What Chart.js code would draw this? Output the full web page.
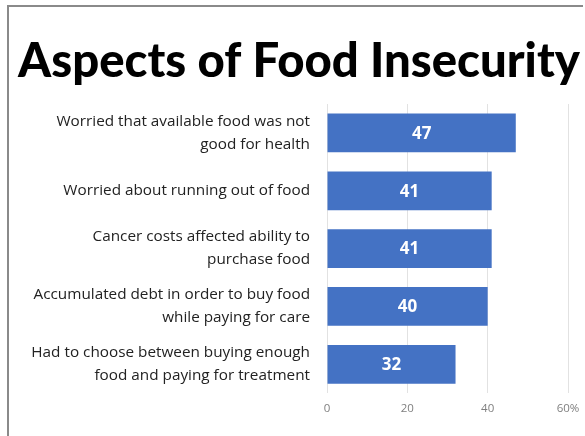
<!DOCTYPE html>
<html>
<head>
<meta charset="utf-8">
<script src="https://cdn.jsdelivr.net/npm/chart.js@4"></script>
<style>
	html, body { margin: 0; padding: 0; background: #fff; }
	#wrap { position: relative; width: 585px; height: 436px; }
	#frame { position: absolute; left: 7px; top: 5px; width: 576px; height: 431px; border-left: 2px solid #8a8a8a; border-top: 2px solid #8a8a8a; box-sizing: border-box; pointer-events: none; }
	canvas { position: absolute; left: 0; top: 0; }
</style>
</head>
<body>
<div id="wrap">
	<canvas id="chart" width="585" height="436"></canvas>
	<div id="frame"></div>
</div>
<script>
const TITLE = 'Aspects of Food Insecurity';
const categories = [
	['Worried that available food was not', 'good for health'],
	['Worried about running out of food'],
	['Cancer costs affected ability to', 'purchase food'],
	['Accumulated debt in order to buy food', 'while paying for care'],
	['Had to choose between buying enough', 'food and paying for treatment']
];
const values = [47, 41, 41, 40, 32];
const xTicks = [0, 20, 40, 60];

// big slide title, drawn by hand so it is not squeezed into the layout box
const slideTitle = {
	id: 'slideTitle',
	afterDraw(chart) {
		const ctx = chart.ctx;
		ctx.save();
		let size = 50;
		ctx.font = `900 ${size}px Lato, sans-serif`;
		const w = ctx.measureText(TITLE).width;
		size = size * 562 / w;
		ctx.font = `900 ${size}px Lato, sans-serif`;
		ctx.fillStyle = '#000';
		ctx.textAlign = 'center';
		ctx.textBaseline = 'alphabetic';
		ctx.fillText(TITLE, 299, 77);
		ctx.restore();
	}
};

// white value labels drawn in the middle of each bar
const barLabels = {
	id: 'barLabels',
	afterDatasetsDraw(chart) {
		const ctx = chart.ctx;
		const meta = chart.getDatasetMeta(0);
		ctx.save();
		ctx.fillStyle = '#ffffff';
		ctx.font = 'bold 17px "Open Sans", sans-serif';
		ctx.textAlign = 'center';
		ctx.textBaseline = 'middle';
		meta.data.forEach((bar, i) => {
			const cx = (bar.x + bar.base) / 2;
			ctx.fillText(String(values[i]), cx, bar.y + 1);
		});
		ctx.restore();
	}
};

new Chart(document.getElementById('chart'), {
	type: 'bar',
	data: {
		labels: categories,
		datasets: [{
			data: values,
			backgroundColor: '#4472C4',
			borderWidth: 0,
			barPercentage: 0.67,
			categoryPercentage: 1.0
		}]
	},
	options: {
		indexAxis: 'y',
		responsive: false,
		animation: false,
		layout: { padding: { top: 104, right: 17, bottom: 11, left: 30 } },
		plugins: {
			legend: { display: false },
			tooltip: { enabled: false },
			title: { display: false }
		},
		scales: {
			x: {
				min: 0,
				max: 60,
				afterBuildTicks(scale) {
					scale.ticks = xTicks.map(v => ({ value: v }));
				},
				// let the "60%" label hang into the right margin
				afterFit(scale) { scale.paddingRight = 0; },
				ticks: {
					color: '#7f7f7f',
					font: { family: 'Open Sans', size: 11.5 },
					padding: 9,
					callback: (v) => v === 60 ? v + '%' : String(v)
				},
				grid: { color: '#e2e2e2', drawTicks: false },
				border: { display: false }
			},
			y: {
				afterFit(scale) { scale.width = 297; },
				ticks: {
					color: '#222',
					font: { family: 'Open Sans', size: 15.3, lineHeight: 1.5 },
					padding: 17
				},
				grid: { display: false, drawTicks: false },
				border: { display: false }
			}
		}
	},
	plugins: [barLabels, slideTitle]
});
</script>
</body>
</html>
